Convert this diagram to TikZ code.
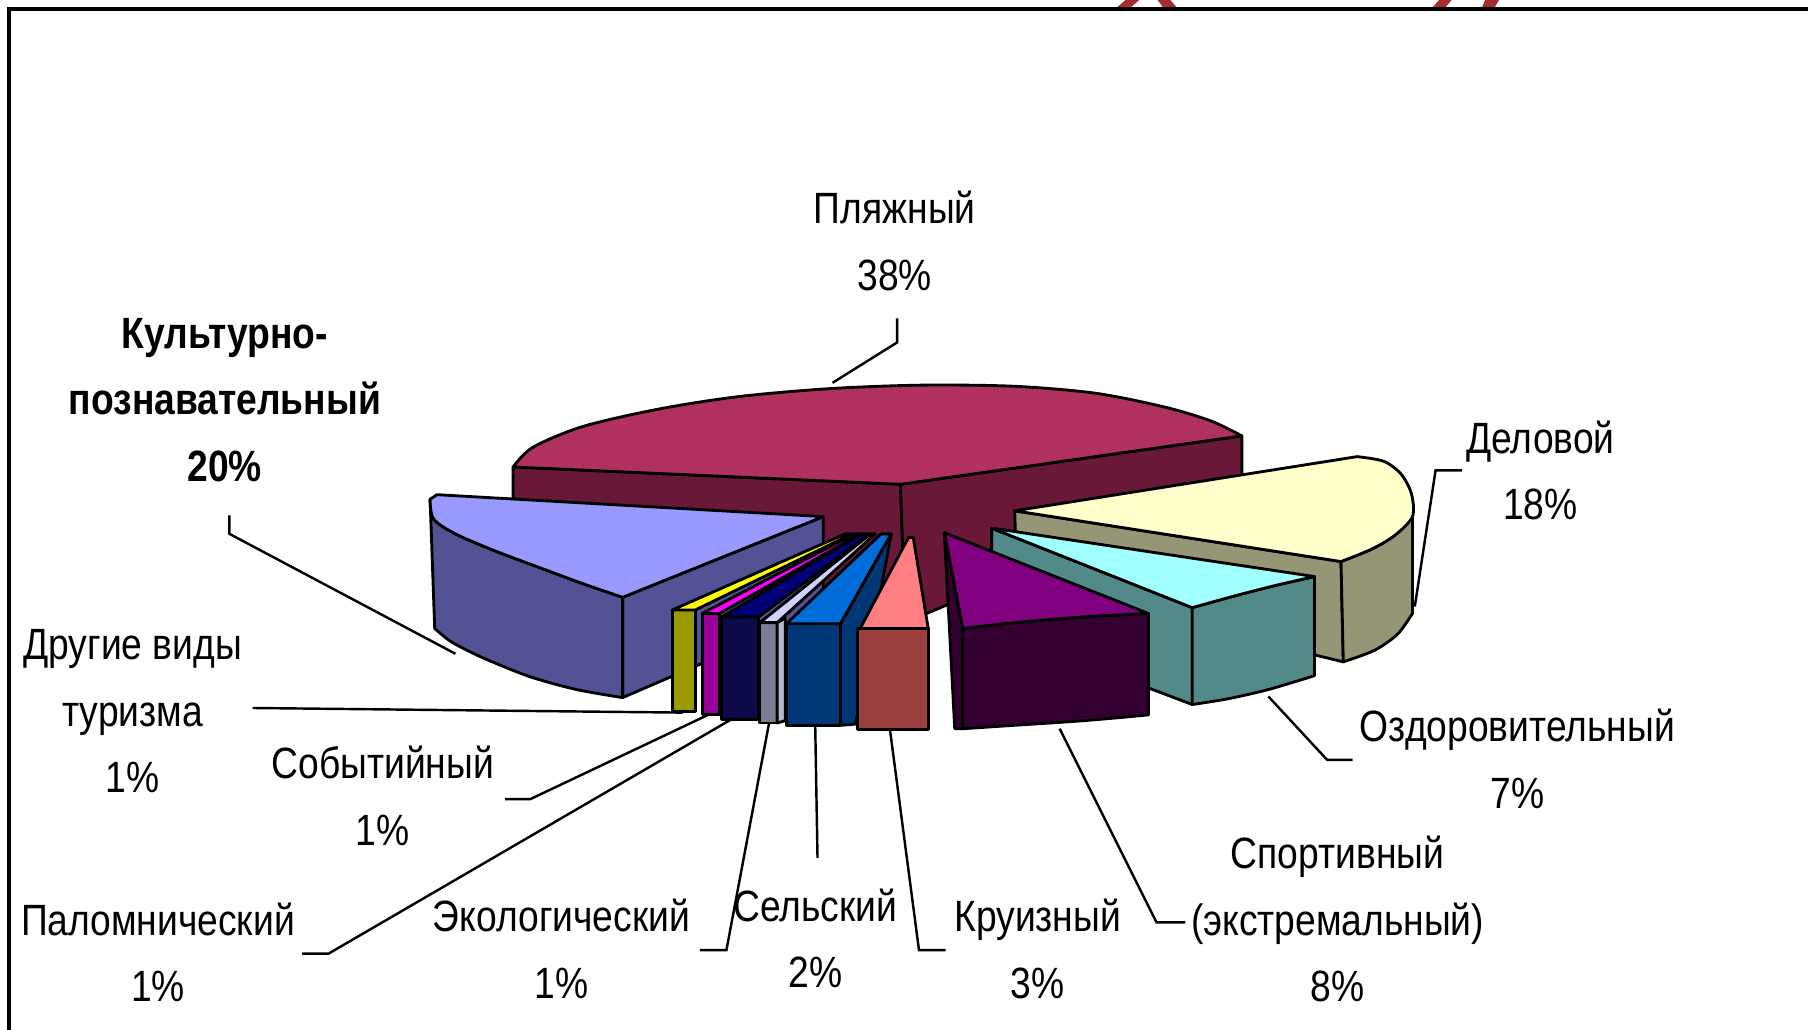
\documentclass[tikz,border=0pt]{standalone}
\usepackage{fontspec}
\newfontfamily\lblfont{Liberation Sans}[FakeStretch=0.85]
\usetikzlibrary{positioning}

\definecolor{pljtop}{RGB}{176,48,96}
\definecolor{pljside}{RGB}{105,24,56}
\definecolor{kulttop}{RGB}{153,153,255}
\definecolor{kultside}{RGB}{82,82,148}
\definecolor{deltop}{RGB}{255,255,204}
\definecolor{delside}{RGB}{150,150,118}
\definecolor{ozdtop}{RGB}{160,255,255}
\definecolor{ozdside}{RGB}{82,138,138}
\definecolor{sporttop}{RGB}{128,0,128}
\definecolor{sportside}{RGB}{52,0,50}
\definecolor{kruiztop}{RGB}{255,128,128}
\definecolor{kruizside}{RGB}{155,62,62}
\definecolor{seltop}{RGB}{0,108,215}
\definecolor{selside}{RGB}{0,55,118}
\definecolor{ekotop}{RGB}{210,210,255}
\definecolor{ekoside}{RGB}{125,125,152}
\definecolor{paltop}{RGB}{0,0,120}
\definecolor{palside}{RGB}{12,10,72}
\definecolor{sobtop}{RGB}{255,0,255}
\definecolor{sobside}{RGB}{153,0,153}
\definecolor{drtop}{RGB}{255,255,0}
\definecolor{drside}{RGB}{153,153,0}
\definecolor{titlered}{RGB}{165,45,45}

\tikzset{
  face/.style={draw=black, line width=0.7pt, line join=round},
  leader/.style={draw=black, line width=0.6pt},
  lbl/.style={font=\fontsize{10.8}{16.4}\selectfont\lblfont, align=center, inner sep=0pt},
}

\begin{document}
\begin{tikzpicture}[x=0.01cm, y=-0.01cm]
  \useasboundingbox (0,0) rectangle (1568,893);

  % frame, with the cut-off title above it
  \fill[titlered] (968,7) -- (976,0) -- (988,0) -- (980,7) -- cycle;
  \fill[titlered] (1004,0) -- (1015,0) -- (1021,7) -- (1009,7) -- cycle;
  \fill[titlered] (1242,7) -- (1248,0) -- (1259,0) -- (1253,7) -- cycle;
  \fill[titlered] (1288,0) -- (1300,0) -- (1296,7) -- (1285,7) -- cycle;
  \draw[line width=1.1pt] (8,893) -- (8,8) -- (1568,8);

  % Пляжный (back)
  \filldraw[face, fill=pljside] (445,405) -- (781,420) -- (785,540) -- (445,470) -- cycle;
  \filldraw[face, fill=pljside] (781,420) -- (1077,378) -- (1077,416) -- (785,540) -- cycle;
  \filldraw[face, fill=pljtop] (445,405) -- plot[smooth] coordinates {(445,405) (462,388) (505,370) (570,355) (640,344) (720,337) (800,334) (880,335) (950,341) (1010,353) (1050,365) (1077,378)} -- (781,420) -- cycle;

  % Деловой
  \filldraw[face, fill=delside] (880,443) -- (1163,487) -- (1165,574) -- (882,505) -- cycle;
  \filldraw[face, fill=delside] (1163,487) -- plot[smooth] coordinates {(1163,487) (1190,476) (1210,464) (1225,448)} -- (1225,532) -- plot[smooth] coordinates {(1225,532) (1212,550) (1192,564) (1165,574)} -- cycle;
  \filldraw[face, fill=deltop] (880,443) -- (1177,396) -- plot[smooth] coordinates {(1177,396) (1200,400) (1215,411) (1224,428) (1225,448) (1210,464) (1190,476) (1163,487)} -- cycle;

  % Культурно-познавательный
  \filldraw[face, fill=kultside] (540,518) -- (714,448) -- (714,530) -- (540,605) -- cycle;
  \filldraw[face, fill=kultside] (373,433) -- plot[smooth] coordinates {(373,433) (376,450) (395,463) (430,478) (470,493) (505,506) (540,518)} -- (540,605) -- plot[smooth] coordinates {(540,605) (500,598) (460,587) (420,571) (392,557) (377,545)} -- cycle;
  \filldraw[face, fill=kulttop] (373,433) -- (379,429) -- (714,448) -- (540,518) -- plot[smooth] coordinates {(540,518) (505,506) (470,493) (430,478) (395,463) (376,450) (373,433)} -- cycle;

  % Оздоровительный
  \filldraw[face, fill=ozdside] (860,458) -- (1034,527) -- (1034,611) -- (860,545) -- cycle;
  \filldraw[face, fill=ozdside] (1034,527) -- plot[smooth] coordinates {(1034,527) (1070,517) (1105,508) (1140,500)} -- (1140,586) -- plot[smooth] coordinates {(1140,586) (1100,598) (1065,606) (1034,611)} -- cycle;
  \filldraw[face, fill=ozdtop] (860,458) -- (1140,500) -- plot[smooth] coordinates {(1140,500) (1105,508) (1070,517) (1034,527)} -- cycle;

  % Спортивный
  \filldraw[face, fill=sportside] (819,462) -- (835,545) -- (835,632) -- (828,632) -- cycle;
  \filldraw[face, fill=sportside] (835,545) -- plot[smooth] coordinates {(835,545) (880,540) (940,535) (996,532)} -- (996,620) -- plot[smooth] coordinates {(996,620) (940,625) (880,629) (835,632)} -- cycle;
  \filldraw[face, fill=sporttop] (819,462) -- (996,532) -- plot[smooth] coordinates {(996,532) (940,535) (880,540) (835,545)} -- cycle;

  % thin slices at the front
  \foreach \xl/\xr/\yt/\yb/\al/\ar/\ctop/\cside in {
      583/603/529/617/733/739/drtop/drside,
      609/624/532/620/741/746/sobtop/sobside,
      626/658/535/624/747/754/paltop/palside,
      659/674/540/627/755/759/ekotop/ekoside,
      682/729/541/629/764/773/seltop/selside} {
    \filldraw[face, fill=\cside] (\xl,\yt) rectangle (\xr,\yb);
    \filldraw[face, fill=\ctop] (\xl,\yt) -- (\xr,\yt) -- (\ar,463) -- (\al,463) -- cycle;
  }
  \filldraw[face, fill=ekoside!55] (674,540) -- (681,536) -- (681,625) -- (674,627) -- cycle;
  \filldraw[face, fill=selside] (729,541) -- (773,463) -- (742,628) -- (729,629) -- cycle;

  % Круизный
  \filldraw[face, fill=kruizside] (744,545) rectangle (805,633);
  \filldraw[face, fill=kruiztop] (746,545) -- (805,545) -- (792,466) -- (788,466) -- cycle;

  % labels
  \node[lbl] (plyazh) at (776,209) {Пляжный\\38\%};
  \node[lbl, font=\fontsize{10.8}{16.4}\selectfont\lblfont\bfseries] (kultur) at (195,347) {Культурно-\\познавательный\\20\%};
  \node[lbl] (delovoy) at (1336,408) {Деловой\\18\%};
  \node[lbl] (ozdor) at (1316,658) {Оздоровительный\\7\%};
  \node[lbl] (sport) at (1160,797) {Спортивный\\(экстремальный)\\8\%};
  \node[lbl] (kruiz) at (900,823) {Круизный\\3\%};
  \node[lbl] (selsk) at (707,814) {Сельский\\2\%};
  \node[lbl] (ekol) at (487,823) {Экологический\\1\%};
  \node[lbl] (palom) at (137,826) {Паломнический\\1\%};
  \node[lbl] (sobyt) at (332,690) {Событийный\\1\%};
  \node[lbl] (drugie) at (115,617) {Другие виды\\туризма\\1\%};

  % leader lines
  \coordinate (plj-a) at (778,276);   \coordinate (plj-b) at (722,332);
  \coordinate (kul-a) at (199,447);   \coordinate (kul-b) at (395,567);
  \coordinate (del-a) at (1268,408);  \coordinate (del-b) at (1227,526);
  \coordinate (ozd-a) at (1173,659);  \coordinate (ozd-b) at (1100,604);
  \coordinate (spo-a) at (1028,800);  \coordinate (spo-b) at (919,632);
  \coordinate (kru-a) at (820,824);   \coordinate (kru-b) at (772,634);
  \coordinate (sel-a) at (709,744);   \coordinate (sel-b) at (707,629);
  \coordinate (eko-a) at (607,824);   \coordinate (eko-b) at (667,627);
  \coordinate (pal-a) at (262,827);   \coordinate (pal-b) at (634,624);
  \coordinate (sob-a) at (438,693);   \coordinate (sob-b) at (614,620);
  \coordinate (dru-a) at (219,614);   \coordinate (dru-b) at (592,618);

  \draw[leader] (plj-a) -- ++(0,21) -- (plj-b);
  \draw[leader] (kul-a) -- ++(0,16) -- (kul-b);
  \draw[leader] (del-a) -- ++(-23,0) -- (del-b);
  \draw[leader] (ozd-a) -- ++(-22,0) -- (ozd-b);
  \draw[leader] (spo-a) -- ++(-25,0) -- (spo-b);
  \draw[leader] (kru-a) -- ++(-23,0) -- (kru-b);
  \draw[leader] (sel-a) -- (sel-b);
  \draw[leader] (eko-a) -- ++(23,0) -- (eko-b);
  \draw[leader] (pal-a) -- ++(23,0) -- (pal-b);
  \draw[leader] (sob-a) -- ++(22,0) -- (sob-b);
  \draw[leader] (dru-a) -- (dru-b);
\end{tikzpicture}
\end{document}
